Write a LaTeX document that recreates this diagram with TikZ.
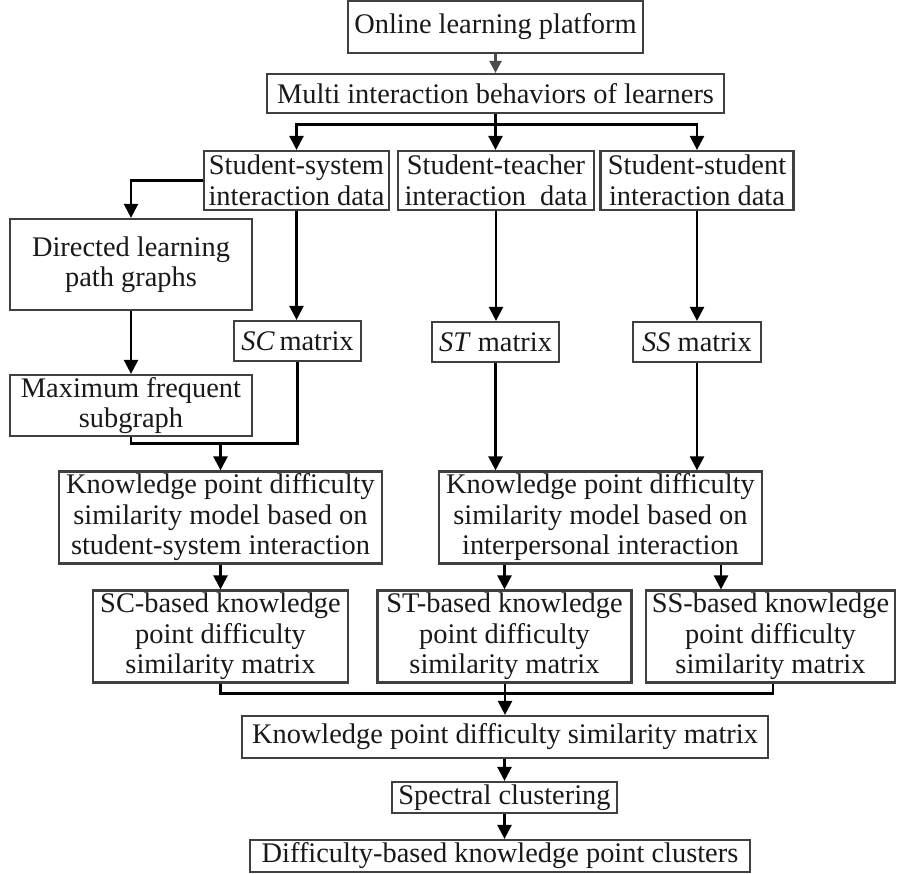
\documentclass[tikz,border=0pt]{standalone}
\usepackage{fontspec}
\setmainfont{Liberation Serif}
\usetikzlibrary{arrows.meta,calc}
\begin{document}
\begin{tikzpicture}[x=1pt,y=-1pt,
  box/.style={draw=black!75,line width=2.2pt,inner sep=0pt,align=center,
    font=\fontsize{28.4}{30.5}\selectfont,text=black!90},
  arr/.style={line width=2.4pt,-{Triangle[width=14pt,length=14pt]}},
  ln/.style={line width=2.4pt}]
\useasboundingbox (0,0) rectangle (897,874);
\fill[white] (0,0) rectangle (897,874);
\node[box,minimum width=295pt,minimum height=52pt] (online) at (495.5,27) {Online learning platform};
\node[box,minimum width=457pt,minimum height=39pt] (multi) at (495.5,93.5) {Multi interaction behaviors of learners};
\node[box,minimum width=185pt,minimum height=59pt] (ssys) at (296.5,180.5) {Student-system\\interaction data};
\node[box,minimum width=196pt,minimum height=59pt] (stea) at (496,180.5) {Student-teacher\\interaction~~data};
\node[box,minimum width=193pt,minimum height=59pt] (sstu) at (697,180.5) {Student-student\\interaction data};
\node[box,minimum width=242pt,minimum height=91pt] (dir) at (131,264.5) {Directed learning\\path graphs};
\node[box,minimum width=127pt,minimum height=40pt] (scm) at (297.5,341) {\textit{SC}\,matrix};
\node[box,minimum width=127pt,minimum height=40pt] (stm) at (495.5,342) {\textit{ST} matrix};
\node[box,minimum width=128pt,minimum height=40pt] (ssm) at (697,342) {\textit{SS} matrix};
\node[box,minimum width=242pt,minimum height=61pt] (max) at (131,405.5) {Maximum frequent\\subgraph};
\node[box,minimum width=323pt,minimum height=92pt] (kpl) at (220.5,517.5) {Knowledge point difficulty\\similarity model based on\\student-system interaction};
\node[box,minimum width=323pt,minimum height=92pt] (kpr) at (600.5,517.5) {Knowledge point difficulty\\similarity model based on\\interpersonal interaction};
\node[box,minimum width=255pt,minimum height=92pt] (scb) at (220.5,636.5) {SC-based knowledge\\point difficulty\\similarity matrix};
\node[box,minimum width=254pt,minimum height=92pt] (stb) at (504.5,636.5) {ST-based knowledge\\point difficulty\\similarity matrix};
\node[box,minimum width=249pt,minimum height=92pt] (ssb) at (770.5,636.5) {SS-based knowledge\\point difficulty\\similarity matrix};
\node[box,minimum width=526pt,minimum height=42pt] (kpm) at (505,737) {Knowledge point difficulty similarity matrix};
\node[box,minimum width=225pt,minimum height=31pt] (spec) at (504.5,797.5) {Spectral clustering};
\node[box,minimum width=500pt,minimum height=32pt] (diff) at (500,856) {Difficulty-based knowledge point clusters};
% connectors
\draw[line width=2.2pt,draw=black!70,-{Triangle[width=12pt,length=12pt]}] (online) -- (multi);
\coordinate (br) at (495.5,124.5);
\draw[ln] (multi.south) -- (br);
\draw[arr] (br) -| (ssys.north);
\draw[arr] (br) -| (sstu.north);
\draw[arr] (br) -- (br |- stea.north);
\draw[arr] (ssys.west) -| (dir.north);
\draw[arr] (ssys.south) -- (ssys.south |- scm.north);
\draw[arr] (stea.south) -- (stea.south |- stm.north);
\draw[arr] (sstu.south) -- (sstu.south |- ssm.north);
\draw[arr] (dir) -- (max);
\coordinate (m1) at (220.5,443.5);
\draw[ln] (max.south) |- (m1) -| (scm.south);
\draw[arr] (m1) -- (kpl.north);
\draw[arr] (stm.south) -- (stm.south |- kpr.north);
\draw[arr] (ssm.south) -- (ssm.south |- kpr.north);
\draw[arr] (kpl) -- (scb);
\draw[arr] (kpr.south -| stb.north) -- (stb.north);
\draw[arr] ([xshift=120.5pt]kpr.south) -- ([xshift=-49.5pt]ssb.north);
\coordinate (m2) at (505,693.5);
\draw[ln] (scb.south) |- (m2);
\draw[ln] ([xshift=2.5pt]ssb.south) |- (m2);
\draw[ln] (stb.south -| m2) -- (m2);
\draw[arr] (m2) -- (m2 |- kpm.north);
\draw[arr] (kpm.south -| spec.south) -- (spec.north);
\draw[arr] (spec.south) -- (spec.south |- diff.north);
\end{tikzpicture}
\end{document}
